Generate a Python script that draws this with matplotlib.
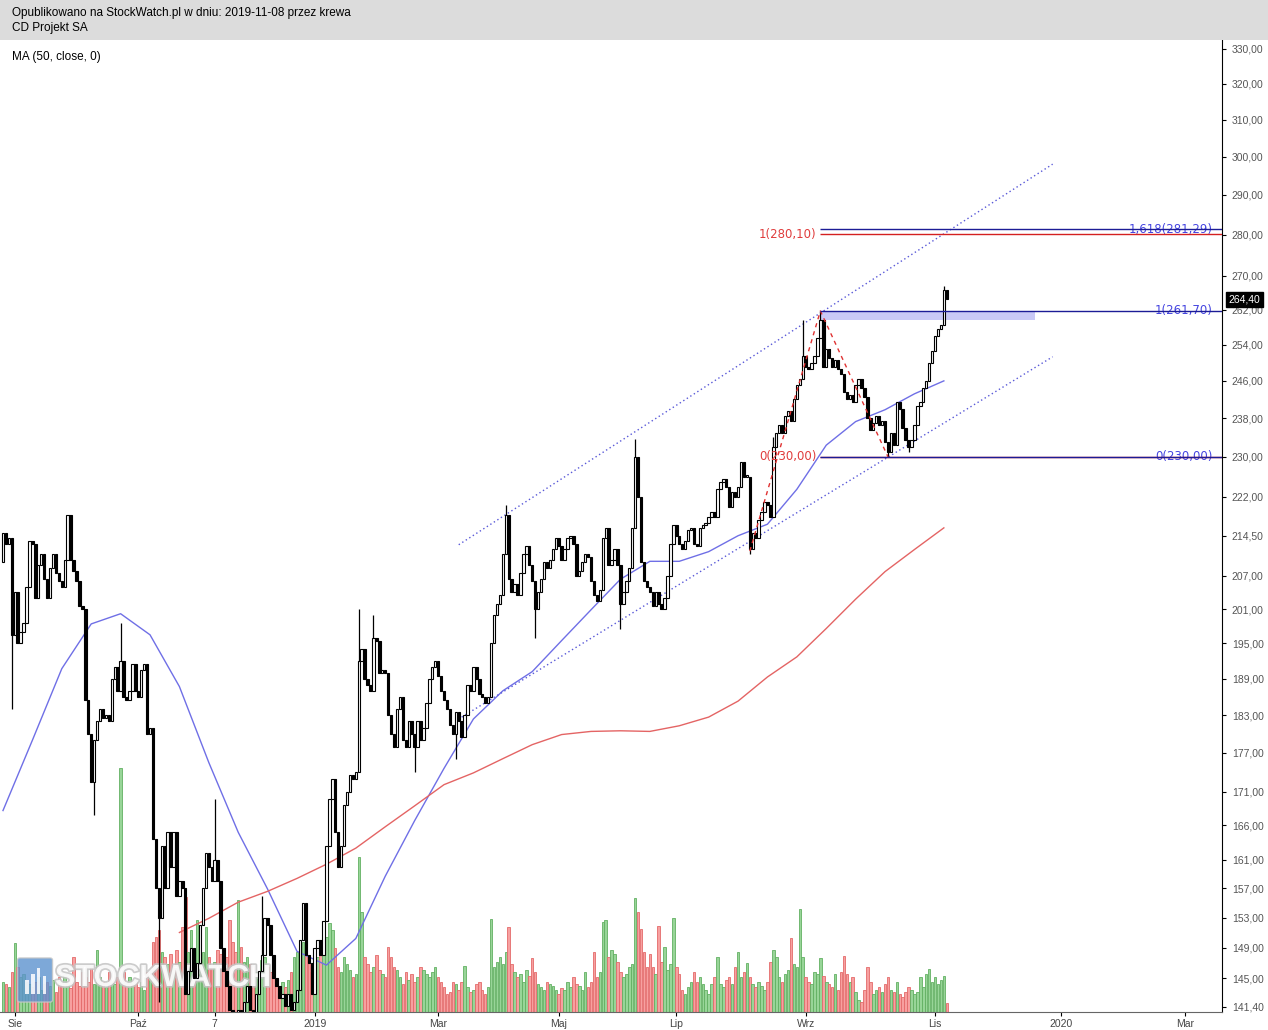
import matplotlib.pyplot as plt
import matplotlib.patheffects as pe
import numpy as np
import pandas as pd
from matplotlib.patches import Rectangle, FancyBboxPatch
from matplotlib.ticker import NullLocator

# sessions on the Warsaw exchange, then plain weekdays into the future
pl_holidays = ["2018-08-15", "2018-11-01", "2018-11-12", "2018-12-24", "2018-12-25",
               "2018-12-26", "2018-12-31", "2019-01-01", "2019-04-19", "2019-04-22",
               "2019-05-01", "2019-05-03", "2019-06-20", "2019-08-15", "2019-11-01"]
sessions = pd.bdate_range("2018-07-26", "2019-11-08", freq="C", holidays=pl_holidays)
future = pd.bdate_range("2019-11-11", "2020-03-31")
dates = sessions.append(future)

# daily closes (PLN)
close = [
    215, 213, 214, 196.5, 204, 195, 197, 198.5, 205, 213.5,
    213, 203, 209, 211, 206.5, 203, 208.5, 211, 207.5, 206,
    205, 210, 218.5, 210, 208, 206, 201.5, 201, 185.5, 180,
    172.5, 179, 182, 184, 182.5, 183, 182, 189, 191, 187,
    192, 186, 185.5, 187, 191.5, 187, 186, 190.5, 191.5, 180,
    181, 164, 157, 153, 163, 157, 165, 160, 165, 156,
    158, 157, 143, 146, 149, 145, 147, 152, 157, 162,
    160, 158, 161, 158, 149, 146, 144, 141, 139, 138,
    141, 139, 142, 144, 141, 140, 143, 146, 148, 153,
    152, 148, 145, 144, 142.5, 143, 141.5, 143, 141, 142,
    143.5, 150, 155, 148, 147, 143, 149, 150, 148, 152.5,
    163, 170, 173, 165, 160, 163, 169, 171, 173.5, 173,
    174, 192, 194, 189, 188, 187, 196, 195.5, 190, 190.5,
    190, 183, 180, 178, 184, 186, 179, 178, 182, 180,
    178, 182, 179, 181, 185, 189, 191, 192, 189.5, 187,
    185.5, 184, 181.5, 180, 183.5, 182, 179.5, 183, 188, 187,
    191, 189, 186.5, 186, 185, 186, 195, 200, 202, 203.5,
    211, 218.5, 206.5, 204, 205.5, 203.5, 207.5, 211, 212.5, 209,
    206, 201, 204, 206.5, 209.5, 208.5, 210, 212, 214, 212.5,
    210, 212, 214, 214.5, 213, 207, 208, 209.5, 211, 210.5,
    206, 203.5, 202.5, 204.5, 214, 216, 209, 210, 212, 209,
    202, 204, 206, 208.5, 216, 230, 222, 209.5, 206, 205,
    204, 201.5, 204, 202, 201, 203, 207, 213, 216.5, 214.5,
    213, 212, 213.5, 215.5, 216, 213, 212.5, 216, 216.5, 217,
    218, 219, 218, 223.5, 225, 225.5, 224, 220, 223, 222,
    224, 229, 226, 226, 212, 215, 214, 217.5, 219, 221,
    220.5, 218, 232, 235, 236.5, 235, 238.5, 239.5, 237.5, 242,
    245, 246.5, 251.5, 249, 248.5, 250, 251.5, 255.5, 259.5, 249,
    253, 251, 249, 250.5, 248.5, 247.5, 243.5, 242, 243, 241.5,
    245, 246.5, 244.5, 242.5, 238, 235.5, 237, 238.5, 236.5, 237.5,
    233, 231, 235, 232.5, 241.5, 240, 236, 233.5, 232, 233.5,
    236.5, 240.5, 241.5, 244.5, 246, 250, 252.5, 256, 257.5, 258.5,
    266.5, 264.4,
]
first_open = 209.5

# long shadows
high_wicks = {"2018-09-21": 198.5, "2018-11-07": 170, "2018-11-30": 156,
              "2019-01-23": 201, "2019-01-30": 200, "2019-04-03": 220.5,
              "2019-06-10": 233.7, "2019-08-16": 234, "2019-08-30": 259.6,
              "2019-09-09": 261.7, "2019-11-07": 267.5}
low_wicks = {"2018-07-31": 184, "2018-09-10": 167.5, "2018-10-10": 142,
             "2019-02-19": 174, "2019-03-11": 176, "2019-04-17": 196,
             "2019-06-03": 197.5, "2019-08-05": 211, "2019-10-10": 230,
             "2019-10-21": 231}

# volume (relative units)
volume = [
    30, 28, 25, 40, 69, 45, 35, 38, 30, 28,
    25, 30, 35, 22, 28, 30, 26, 32, 20, 35,
    30, 38, 28, 24, 55, 30, 26, 40, 35, 30,
    45, 28, 62, 35, 30, 25, 40, 30, 28, 35,
    244, 40, 30, 35, 28, 32, 25, 30, 22, 40,
    35, 70, 75, 82, 60, 55, 48, 58, 40, 62,
    50, 85, 115, 60, 82, 55, 92, 70, 60, 85,
    55, 45, 50, 62, 58, 48, 55, 92, 70, 60,
    112, 65, 50, 55, 48, 45, 40, 38, 52, 55,
    45, 40, 35, 28, 25, 30, 25, 32, 40, 55,
    60, 58, 70, 65, 50, 40, 45, 55, 62, 70,
    75, 89, 82, 64, 45, 40, 55, 48, 42, 35,
    38, 155, 100, 55, 48, 40, 45, 57, 42, 38,
    35, 65, 55, 45, 42, 35, 28, 40, 32, 38,
    30, 35, 45, 42, 38, 35, 40, 45, 35, 30,
    25, 18, 20, 30, 28, 22, 30, 46, 25, 20,
    22, 28, 30, 22, 18, 25, 93, 45, 50, 55,
    48, 60, 85, 48, 40, 35, 38, 30, 42, 36,
    54, 40, 28, 25, 22, 30, 28, 26, 22, 18,
    24, 22, 30, 25, 35, 28, 26, 22, 40, 25,
    30, 60, 35, 40, 90, 92, 55, 62, 58, 50,
    40, 35, 38, 45, 48, 114, 100, 83, 60, 45,
    58, 45, 38, 86, 50, 65, 42, 48, 94, 45,
    38, 22, 18, 25, 30, 40, 30, 35, 28, 22,
    18, 28, 35, 55, 28, 25, 32, 35, 28, 45,
    60, 35, 40, 49, 35, 28, 25, 30, 26, 22,
    30, 50, 62, 55, 35, 30, 38, 42, 74, 48,
    45, 103, 55, 35, 30, 28, 40, 38, 54, 36,
    30, 28, 25, 38, 22, 40, 56, 38, 30, 35,
    20, 12, 10, 22, 45, 30, 18, 22, 25, 20,
    28, 35, 22, 20, 30, 18, 15, 20, 25, 22,
    18, 20, 35, 25, 38, 43, 30, 35, 28, 32,
    36, 9,
]

# moving averages sampled every 10 sessions
ma_step = 10
ma50 = [168.2, 179.0, 190.7, 198.4, 200.2, 196.5, 187.7, 175.5, 165.0, 156.9,
        148.5, 146.7, 150.2, 158.7, 166.7, 174.6, 182.4, 187.0, 190.2, 195.5,
        200.9, 206.4, 209.7, 209.7, 211.5, 214.5, 216.7, 223.5, 232.4, 237.3,
        239.8, 243.2, 246.0]
ma200_first = 60
ma200 = [151.0, 152.9, 155.1, 156.6, 158.4, 160.4, 162.7, 165.8, 168.9, 172.1,
         173.9, 176.1, 178.3, 179.9, 180.4, 180.5, 180.4, 181.3, 182.7, 185.3,
         189.3, 192.7, 197.6, 202.8, 207.8, 211.9, 216.0]

# drawings
channel_upper = [("2019-03-12", 212.8), ("2019-12-30", 298.0)]
channel_lower = [("2019-03-13", 182.7), ("2019-12-30", 251.3)]
zigzag = [("2019-08-05", 211.6), ("2019-09-09", 261.7), ("2019-10-10", 230.0)]
fib_start = "2019-09-09"
zone_end = "2019-12-20"
zone = (259.5, 261.7)
fib_red = [(280.10, "1(280,10)"), (230.00, "0(230,00)")]
fib_blue = [(281.29, "1,618(281,29)"), (261.70, "1(261,70)"), (230.00, "0(230,00)")]
last_price = 264.40

yticks = [330, 320, 310, 300, 290, 280, 270, 262, 254, 246, 238, 230, 222, 214.5,
          207, 201, 195, 189, 183, 177, 171, 166, 161, 157, 153, 149, 145, 141.4]
tick_dates = ["2018-08-01", "2018-10-01", "2018-11-07", "2019-01-02", "2019-03-01",
              "2019-05-02", "2019-07-01", "2019-09-02", "2019-11-04", "2020-01-02",
              "2020-03-02"]
tick_labels = ["Sie", "Paź", "7", "2019", "Mar", "Maj", "Lip", "Wrz", "Lis", "2020", "Mar"]


def ix(d):
    return dates.get_loc(pd.Timestamp(d))


def fmt(v):
    return f"{v:.2f}".replace(".", ",")


W, H = 1268, 1030
fig = plt.figure(figsize=(W / 100, H / 100), dpi=100)
fig.patches.append(Rectangle((0, 1 - 40 / H), 1, 40 / H, transform=fig.transFigure,
                             fc="#dcdcdc", ec="none"))
fig.text(12 / W, 1 - 13 / H, "Opublikowano na StockWatch.pl w dniu: 2019-11-08 przez krewa",
         fontsize=8.5, family="Liberation Sans", va="center")
fig.text(12 / W, 1 - 28 / H, "CD Projekt SA", fontsize=8.5, family="Liberation Sans", va="center")

ax = fig.add_axes([0, 18 / H, 1222 / W, 972 / H])
axv = ax.twinx()
ax.set_zorder(axv.get_zorder() + 1)
ax.patch.set_visible(False)

close = np.array(close)
n = len(close)
x = np.arange(n)
opn = np.r_[first_open, close[:-1]]
high = np.maximum(opn, close)
low = np.minimum(opn, close)
for d, v in high_wicks.items():
    high[ix(d)] = v
for d, v in low_wicks.items():
    low[ix(d)] = v
up = close >= opn

# volume
vol_fill = np.where(up, "#98d598", "#f7a0a0")
vol_edge = np.where(up, "#62b062", "#e46a6a")
axv.bar(x, volume, width=0.85, color=vol_fill, edgecolor=vol_edge, linewidth=0.6)
axv.set_ylim(0, 972)
axv.set_yticks([])
for s in axv.spines.values():
    s.set_visible(False)

# watermark
axv.add_patch(FancyBboxPatch((20 / W, 1 - 1000 / H), 30 / W, 40 / H,
                             boxstyle="round,pad=0.002", transform=fig.transFigure,
                             fc="#5d93cf", ec="#c8c8c8", alpha=0.8, clip_on=False))
for k, hgt in enumerate([14, 20, 26, 18]):
    axv.add_patch(Rectangle(((25 + 6 * k) / W, 1 - 994 / H), 3.5 / W, hgt / H,
                            transform=fig.transFigure, fc="white", ec="none",
                            alpha=0.85, clip_on=False))
axv.text(55 / W, 1 - 978 / H, "STOCKWATCH", transform=fig.transFigure, fontsize=22,
         fontweight="bold", family="Liberation Sans", color="white", alpha=0.85,
         va="center", path_effects=[pe.withStroke(linewidth=2.5, foreground="#c4c4c4")])

# price panel
ax.set_yscale("log")
ax.set_ylim(140.74, 332.6)
ax.set_xlim(-1.02, 414.6)

ax.vlines(x, low, high, color="black", linewidth=0.9, zorder=3)
body_bot = np.minimum(opn, close)
body_h = np.maximum(np.abs(close - opn), body_bot * 0.0015)
ax.bar(x, body_h, bottom=body_bot, width=0.82, color=np.where(up, "white", "black"),
       edgecolor="black", linewidth=0.8, zorder=4)

ax.plot(np.arange(len(ma50)) * ma_step, ma50, color="#6f6fe6", linewidth=1, zorder=2)
ax.plot(ma200_first + np.arange(len(ma200)) * ma_step, ma200, color="#e46464",
        linewidth=1, zorder=2)

for line in (channel_upper, channel_lower):
    ax.plot([ix(d) for d, _ in line], [v for _, v in line], color="#5858d8",
            linewidth=1, linestyle=(0, (1, 2)), zorder=2)

xb = ix(fib_start)
xr = ax.get_xlim()[1]
ax.add_patch(Rectangle((xb, zone[0]), ix(zone_end) - xb, zone[1] - zone[0],
                       fc="#c9c9f6", ec="none", zorder=1))
ax.plot([ix(d) for d, _ in zigzag], [v for _, v in zigzag], color="#e03232",
        linewidth=1, linestyle=(0, (3, 3)), zorder=5)

for v, lab in fib_red:
    ax.hlines(v, xb, xr, color="#d42020", linewidth=1, zorder=5)
    ax.annotate(lab, xy=(xb, v), xytext=(-3, 0), textcoords="offset points",
                ha="right", va="center", color="#e03c3c", fontsize=8.5, zorder=6)
for v, lab in fib_blue:
    ax.hlines(v, xb, xr, color="#1c1c96", linewidth=1, zorder=5)
    ax.annotate(lab, xy=(1, v), xycoords=("axes fraction", "data"), xytext=(-6.5, 0),
                textcoords="offset points", ha="right", va="center",
                color="#4444e0", fontsize=8.5, zorder=4)

fig.text(12 / W, 1 - 57 / H, "MA (50, close, 0)", fontsize=8.5,
         family="Liberation Sans", va="center")

# axes styling
ax.yaxis.tick_right()
ax.yaxis.set_minor_locator(NullLocator())
ax.set_yticks(yticks)
ax.set_yticklabels([fmt(v) for v in yticks])
ax.tick_params(axis="y", length=3, labelsize=7.5, labelcolor="#555555", pad=4)
ax.set_xticks([ix(d) for d in tick_dates])
ax.set_xticklabels(tick_labels)
ax.tick_params(axis="x", length=3, labelsize=7.5, labelcolor="#444444", pad=2)
for lab in ax.get_xticklabels() + ax.get_yticklabels():
    lab.set_family("Liberation Sans")
for side in ("top", "left"):
    ax.spines[side].set_visible(False)
ax.spines["right"].set_color("black")
ax.spines["bottom"].set_color("#666666")
ax.spines["bottom"].set_linewidth(0.8)

ax.annotate(fmt(last_price), xy=(1, last_price), xycoords=("axes fraction", "data"),
            xytext=(4.5, 0), textcoords="offset points", ha="left", va="center",
            color="white", fontsize=7.5, family="Liberation Sans", annotation_clip=False,
            bbox=dict(boxstyle="square,pad=0.25", fc="black", ec="black"), zorder=10)

fig.savefig("out.png", dpi=100)
